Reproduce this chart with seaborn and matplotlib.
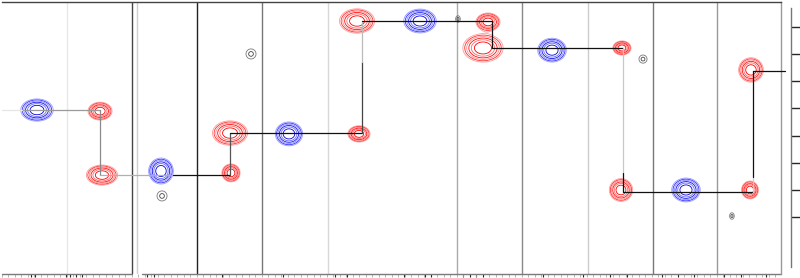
import numpy as np
import pandas as pd
import matplotlib
matplotlib.use("Agg")
import matplotlib.pyplot as plt
import seaborn as sns

# ---------------- data ----------------
# positive (red) cross peaks: strip position, shift, line widths
red_x = [1.508, 1.538, 3.508, 3.523, 5.492, 5.462, 7.477, 7.40, 9.538, 9.523, 11.508, 11.523]
red_y = [4.10, 6.46, 4.91, 6.38, 4.94, 0.775, 0.81, 1.77, 1.77, 7.01, 7.01, 2.58]
red_wx = [0.185, 0.24, 0.27, 0.14, 0.17, 0.27, 0.185, 0.31, 0.14, 0.18, 0.13, 0.19]
red_wy = [0.33, 0.37, 0.45, 0.33, 0.30, 0.45, 0.33, 0.52, 0.26, 0.42, 0.33, 0.45]

# negative (blue) peaks
blue_x = [0.538, 2.446, 4.415, 6.431, 8.462, 10.523]
blue_y = [4.06, 6.31, 4.94, 0.775, 1.85, 7.01]
blue_wx = [0.25, 0.19, 0.21, 0.25, 0.22, 0.22]
blue_wy = [0.41, 0.48, 0.44, 0.44, 0.44, 0.44]

# weak (gray) peaks
gray_x = [2.462, 3.831, 9.862, 7.015, 11.23]
gray_y = [7.23, 1.99, 2.18, 0.70, 7.97]
gray_wx = [0.077, 0.077, 0.062, 0.035, 0.035]
gray_wy = [0.185, 0.185, 0.15, 0.12, 0.12]

# sequential walk
walk_x = [0.0, 0.32, 1.51, 1.51, 2.63, 3.51, 3.51, 5.54, 5.54, 5.54, 7.54, 7.54,
          9.55, 9.55, 9.55, 11.55, 11.55, 11.55, 12.05]
walk_y = [4.06, 4.06, 4.06, 6.46, 6.46, 6.46, 4.91, 4.91, 2.29, 0.775, 0.775, 1.77,
          1.77, 6.38, 7.08, 7.08, 6.53, 2.62, 2.62]
walk_colors = ['#e6e6e6', '#9a9a9a', '#8a8a8a', '#b0b0b0', '#111111', '#555555',
               '#111111', '#444444', '#bbbbbb', '#111111', '#111111', '#111111',
               '#c8c8c8', '#111111', '#111111', '#cccccc', '#111111', '#111111']

right_ticks = [1, 2, 3, 4, 5, 6, 7, 8]
right_tick_colors = ['#555555', '#888888', '#dddddd', '#666666', '#333333', '#444444', '#777777', '#cccccc']

# ---------------- figure ----------------
sns.set_style("white")
W, H = 800, 278
fig = plt.figure(figsize=(W / 100, H / 100), dpi=100)
ax = fig.add_axes([2 / W, 4 / H, 779 / W, 272 / H])
ax.set_xlim(0, 11.985)
ax.set_ylim(10.11, 0.0738)

# strip separators
sep = [(1.0, '#e8e8e8'), (2.0, '#444444'), (2.077, '#d0d0d0'), (3.0, '#222222'),
       (4.0, '#777777'), (5.015, '#d8d8d8'), (7.0, '#aaaaaa'), (8.0, '#888888'),
       (9.015, '#cccccc'), (10.015, '#777777'), (11.0, '#999999')]
for xv, c in sep:
    ax.axvline(xv, color=c, lw=1.0, zorder=1)

gx = np.linspace(0, 12.1, 1800)
gy = np.linspace(0, 10.2, 700)
XX, YY = np.meshgrid(gx, gy)


def field(xs, ys, wxs, wys):
    Z = np.zeros_like(XX)
    for x0, y0, wx, wy in zip(xs, ys, wxs, wys):
        sx, sy = wx / 2.15, wy / 2.15
        Z += np.exp(-0.5 * (((XX - x0) / sx) ** 2 + ((YY - y0) / sy) ** 2))
    return Z


levels = [0.1, 0.15, 0.22, 0.32, 0.46, 0.66]
ax.contour(XX, YY, field(red_x, red_y, red_wx, red_wy), levels=levels,
           colors=['#ff9a9a', '#ff3030', '#ff8a8a', '#ff1010', '#ff6a6a', '#ff0000'],
           linewidths=0.6, zorder=2)
ax.contour(XX, YY, field(blue_x, blue_y, blue_wx, blue_wy), levels=levels,
           colors=['#9a9aff', '#3030ff', '#8a8aff', '#1010ee', '#6a6aff', '#0000dd'],
           linewidths=0.6, zorder=2)
ax.contour(XX, YY, field(gray_x, gray_y, gray_wx, gray_wy), levels=[0.1, 0.6],
           colors=['#777777', '#444444'], linewidths=0.6, zorder=2)

# walk lines through seaborn
rows = []
for i in range(len(walk_x) - 1):
    rows.append((str(i), walk_x[i], walk_y[i]))
    rows.append((str(i), walk_x[i + 1], walk_y[i + 1]))
df = pd.DataFrame(rows, columns=['seg', 'x', 'y'])
pal = {str(i): c for i, c in enumerate(walk_colors)}
sns.lineplot(data=df, x='x', y='y', hue='seg', units='seg', estimator=None,
             sort=False, palette=pal, legend=False, lw=0.9, ax=ax,
             clip_on=False, zorder=3)
ax.set_xlabel('')
ax.set_ylabel('')

# spines
for s in ['left', 'bottom']:
    ax.spines[s].set_visible(False)
ax.spines['top'].set_color('#444444')
ax.spines['top'].set_linewidth(1.0)
ax.spines['right'].set_color('#999999')
ax.spines['right'].set_linewidth(1.0)
tr = ax.get_xaxis_transform()
ax.plot([0, 2.0], [0, 0], transform=tr, color='#7a7a7a', lw=1.0, clip_on=False)
ax.plot([2.154, 11.985], [0, 0], transform=tr, color='#7a7a7a', lw=1.0, clip_on=False)

# bottom ticks
major_px = [31, 35, 66, 70, 76, 82, 147, 154, 222, 283, 335, 347, 404, 425, 431,
            463, 470, 476, 483, 543, 583, 610, 627, 662, 678, 694, 724, 741, 766]
ax.set_xticks([(p - 2) / 65 for p in major_px])
ax.xaxis.set_minor_locator(matplotlib.ticker.MultipleLocator(0.1))
ax.tick_params(axis='x', which='major', direction='out', length=2.5, width=0.8,
               color='#222222', labelbottom=False, bottom=True)
ax.tick_params(axis='x', which='minor', direction='out', length=2.0, width=0.6,
               color='#aaaaaa', bottom=True)
ax.set_yticks([])

# right scale
ax2 = fig.add_axes([791 / W, 11 / H, 8 / W, 259 / H])
ax2.set_ylim(9.852, 0.295)
ax2.set_xlim(0, 1)
for s in ['top', 'right', 'bottom']:
    ax2.spines[s].set_visible(False)
ax2.spines['left'].set_color('#777777')
ax2.spines['left'].set_linewidth(1.0)
ax2.set_xticks([])
ax2.set_yticks(right_ticks)
ax2.tick_params(axis='y', direction='in', length=6.5, width=1.0, left=True,
                labelleft=False)
for t, c in zip(ax2.yaxis.get_major_ticks(), right_tick_colors):
    t.tick1line.set_color(c)
ax2.patch.set_alpha(0)

fig.savefig('out.png', dpi=100)
